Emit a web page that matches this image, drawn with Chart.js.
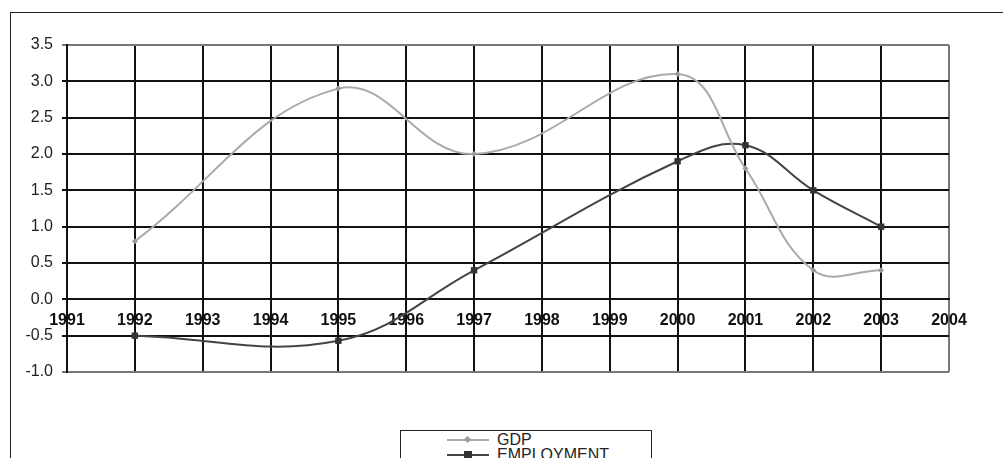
<!DOCTYPE html>
<html lang="en">
<head>
    <meta charset="UTF-8">
    <title>GDP and Employment</title>
    <script src="https://cdn.jsdelivr.net/npm/chart.js"></script>
    <style>
        html, body { margin: 0; padding: 0; background: #fff; overflow: hidden; }
        #frame { position: absolute; left: 10px; top: 12px; width: 1100px; height: 600px; border: 1.5px solid #222; }
        #wrap { position: absolute; left: 0; top: 0; width: 1003px; height: 458px; }
        #legend { position: absolute; left: 400px; top: 430px; width: 250px; height: 60px; border: 1.5px solid #222; background: #fff;
                  font-family: "Liberation Sans", Arial, sans-serif; font-size: 16px; color: #222; }
        .item { position: absolute; left: 46px; height: 14px; line-height: 14px; }
        .item .ln { position: absolute; left: 0; top: 6px; width: 42px; height: 2px; }
        .item .mk { position: absolute; }
        .item .tx { position: absolute; left: 50px; top: 0; white-space: nowrap; }
    </style>
</head>
<body>
    <div id="frame"></div>
    <div id="wrap"><canvas id="chart"></canvas></div>
    <div id="legend">
        <div class="item" style="top:2px">
            <div class="ln" style="background:#aaa"></div>
            <div class="mk" style="left:18px;top:4px;width:5px;height:5px;background:#999;transform:rotate(45deg)"></div>
            <div class="tx">GDP</div>
        </div>
        <div class="item" style="top:17px">
            <div class="ln" style="background:#444"></div>
            <div class="mk" style="left:17px;top:3px;width:8px;height:8px;background:#333"></div>
            <div class="tx">EMPLOYMENT</div>
        </div>
    </div>

    <script>
        // 年とデータ
        const years = [1992, 1995, 1997, 2000, 2001, 2002, 2003];
        const gdp = [0.8, 2.9, 2.0, 3.1, 1.8, 0.4, 0.4];
        const employment = [-0.5, -0.57, 0.4, 1.9, 2.12, 1.5, 1.0];
        const xMin = 1991, xMax = 2004;
        const yMin = -1.0, yMax = 3.5;

        const toPoints = (vals) => years.map((y, i) => ({ x: y, y: vals[i] }));

        const ctx = document.getElementById('chart').getContext('2d');
        new Chart(ctx, {
            type: 'line',
            data: {
                datasets: [{
                    label: 'GDP',
                    data: toPoints(gdp),
                    borderColor: '#aaa',
                    backgroundColor: '#999',
                    borderWidth: 2,
                    pointStyle: 'rectRot',
                    pointRadius: 3,
                    pointBorderWidth: 0,
                    tension: 0.4,
                    fill: false
                }, {
                    label: 'EMPLOYMENT',
                    data: toPoints(employment),
                    borderColor: '#444',
                    backgroundColor: '#333',
                    borderWidth: 2,
                    pointStyle: 'rect',
                    pointRadius: 4.5,
                    pointBorderWidth: 0,
                    tension: 0.4,
                    fill: false
                }]
            },
            options: {
                responsive: true,
                maintainAspectRatio: false,
                animation: false,
                layout: { padding: { left: 0, top: 45, right: 54, bottom: 86 } },
                plugins: {
                    legend: { display: false },
                    tooltip: { enabled: false }
                },
                scales: {
                    x: {
                        type: 'linear',
                        min: xMin,
                        max: xMax,
                        position: { y: 0 },
                        ticks: {
                            stepSize: 1,
                            padding: 12,
                            color: '#111',
                            font: { family: 'Liberation Sans', size: 16, weight: 'bold' },
                            callback: v => String(v)
                        },
                        grid: {
                            color: c => c.index === xMax - xMin ? '#777' : '#111',
                            lineWidth: 2,
                            tickLength: 0
                        },
                        border: { color: '#111', width: 2 }
                    },
                    y: {
                        min: yMin,
                        max: yMax,
                        afterFit: s => { s.width = 67; },
                        ticks: {
                            stepSize: 0.5,
                            padding: 9,
                            color: '#222',
                            font: { family: 'Liberation Sans', size: 16 },
                            callback: v => v.toFixed(1)
                        },
                        grid: {
                            color: c => (c.index === 0 || c.index === 9) ? '#777' : '#111',
                            lineWidth: 2,
                            tickLength: 5
                        },
                        border: { color: '#111', width: 2 }
                    }
                }
            }
        });
    </script>
</body>
</html>
